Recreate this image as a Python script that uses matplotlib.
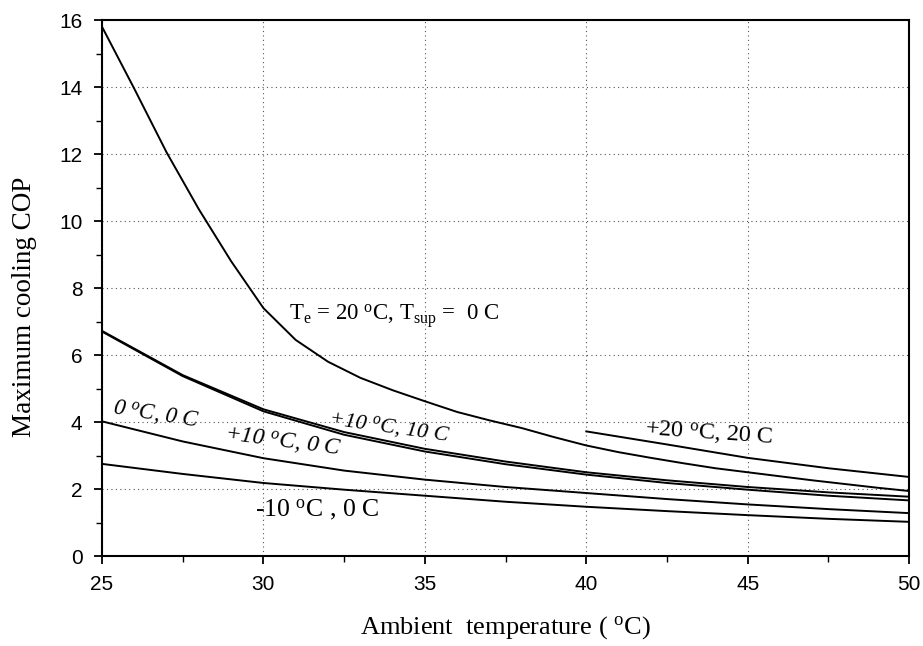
import matplotlib
matplotlib.use("Agg")
import matplotlib.pyplot as plt
from matplotlib.ticker import MultipleLocator

plt.rcParams['mathtext.fontset'] = 'custom'
plt.rcParams['mathtext.rm'] = 'Liberation Serif'
plt.rcParams['mathtext.it'] = 'Liberation Serif:italic'

# Te = 20 C, Tsup = 0 C
x_te20 = [25, 26, 27, 28, 29, 30, 31, 32, 33, 34, 35, 36, 37, 38, 39, 40, 41, 42, 43, 44, 45, 46, 47, 48, 49, 50]
y_te20 = [15.8, 13.95, 12.05, 10.35, 8.8, 7.4, 6.45, 5.8, 5.32, 4.95, 4.62, 4.3, 4.05, 3.82, 3.55, 3.3, 3.1, 2.93, 2.77, 2.62, 2.5, 2.38, 2.26, 2.15, 2.04, 1.94]

# +20 C, 20 C
x_p20 = [40, 42.5, 45, 47.5, 50]
y_p20 = [3.72, 3.33, 2.93, 2.62, 2.36]

# +10 C, 10 C
x_p10s = [25, 27.5, 30, 32.5, 35, 37.5, 40, 42.5, 45, 47.5, 50]
y_p10s = [6.72, 5.4, 4.38, 3.7, 3.2, 2.82, 2.5, 2.26, 2.06, 1.9, 1.77]

# +10 C, 0 C
x_p10 = [25, 27.5, 30, 32.5, 35, 37.5, 40, 42.5, 45, 47.5, 50]
y_p10 = [6.7, 5.37, 4.32, 3.62, 3.12, 2.74, 2.43, 2.18, 1.98, 1.8, 1.66]

# 0 C, 0 C
x_0 = [25, 27.5, 30, 32.5, 35, 37.5, 40, 42.5, 45, 47.5, 50]
y_0 = [4.02, 3.42, 2.92, 2.55, 2.28, 2.06, 1.88, 1.7, 1.54, 1.4, 1.28]

# -10 C, 0 C
x_m10 = [25, 27.5, 30, 32.5, 35, 37.5, 40, 42.5, 45, 47.5, 50]
y_m10 = [2.75, 2.45, 2.18, 1.98, 1.8, 1.62, 1.47, 1.34, 1.22, 1.11, 1.02]

fig = plt.figure(figsize=(9.23, 6.46), dpi=100)
ax = fig.add_axes([0.1105, 0.1393, 0.8745, 0.8297])

for xs, ys in [(x_te20, y_te20), (x_p20, y_p20), (x_p10s, y_p10s),
               (x_p10, y_p10), (x_0, y_0), (x_m10, y_m10)]:
    ax.plot(xs, ys, color='black', lw=1.4)

ax.set_xlim(25, 50)
ax.set_ylim(0, 16)
ax.xaxis.set_major_locator(MultipleLocator(5))
ax.xaxis.set_minor_locator(MultipleLocator(2.5))
ax.yaxis.set_major_locator(MultipleLocator(2))
ax.yaxis.set_minor_locator(MultipleLocator(1))
ax.grid(True, which='major', linestyle=(0, (1, 3)), color='#555555', lw=0.8)
for s in ax.spines.values():
    s.set_linewidth(1.5)
ax.tick_params(which='major', direction='out', length=6, width=1.3,
               labelsize=15, pad=8)
ax.tick_params(which='minor', direction='out', length=4, width=1.0)
for lab in ax.get_xticklabels() + ax.get_yticklabels():
    lab.set_fontfamily('Liberation Sans')

fig.text(0.547, 0.029, 'Ambient  temperature ( $^{\\mathrm{o}}$C)', fontfamily='Liberation Serif',
         fontsize=19, ha='center', va='center')
fig.text(0.027, 0.525, 'Maximum cooling COP', fontfamily='Liberation Serif', fontsize=19.5,
         ha='center', va='center', rotation=90)

serif = 'Liberation Serif'
ax.text(30.8, 7.04, r'T$_{\mathrm{e}}$ = 20 $^{\mathrm{o}}$C, T$_{\mathrm{sup}}$ =  0 C',
        fontfamily=serif, fontsize=16.5)
ax.text(32.0, 3.94, r'+10 $^{\mathit{o}}$C, 10 C', fontfamily=serif, fontsize=16,
        style='italic', rotation=-8, rotation_mode='anchor')
ax.text(41.8, 3.61, r'+20 $^{\mathrm{o}}$C, 20 C', fontfamily=serif, fontsize=17.5,
        rotation=-4, rotation_mode='anchor')
ax.text(25.3, 4.24, r'0 $^{\mathit{o}}$C, 0 C', fontfamily=serif, fontsize=16.5,
        style='italic', rotation=-9, rotation_mode='anchor')
ax.text(28.76, 3.46, r'+10 $^{\mathit{o}}$C, 0 C', fontfamily=serif, fontsize=17,
        style='italic', rotation=-7.5, rotation_mode='anchor')
ax.text(29.74, 1.2, r'-10 $^{\mathrm{o}}$C , 0 C', fontfamily=serif, fontsize=18.5)

fig.savefig('out.png', dpi=100)
